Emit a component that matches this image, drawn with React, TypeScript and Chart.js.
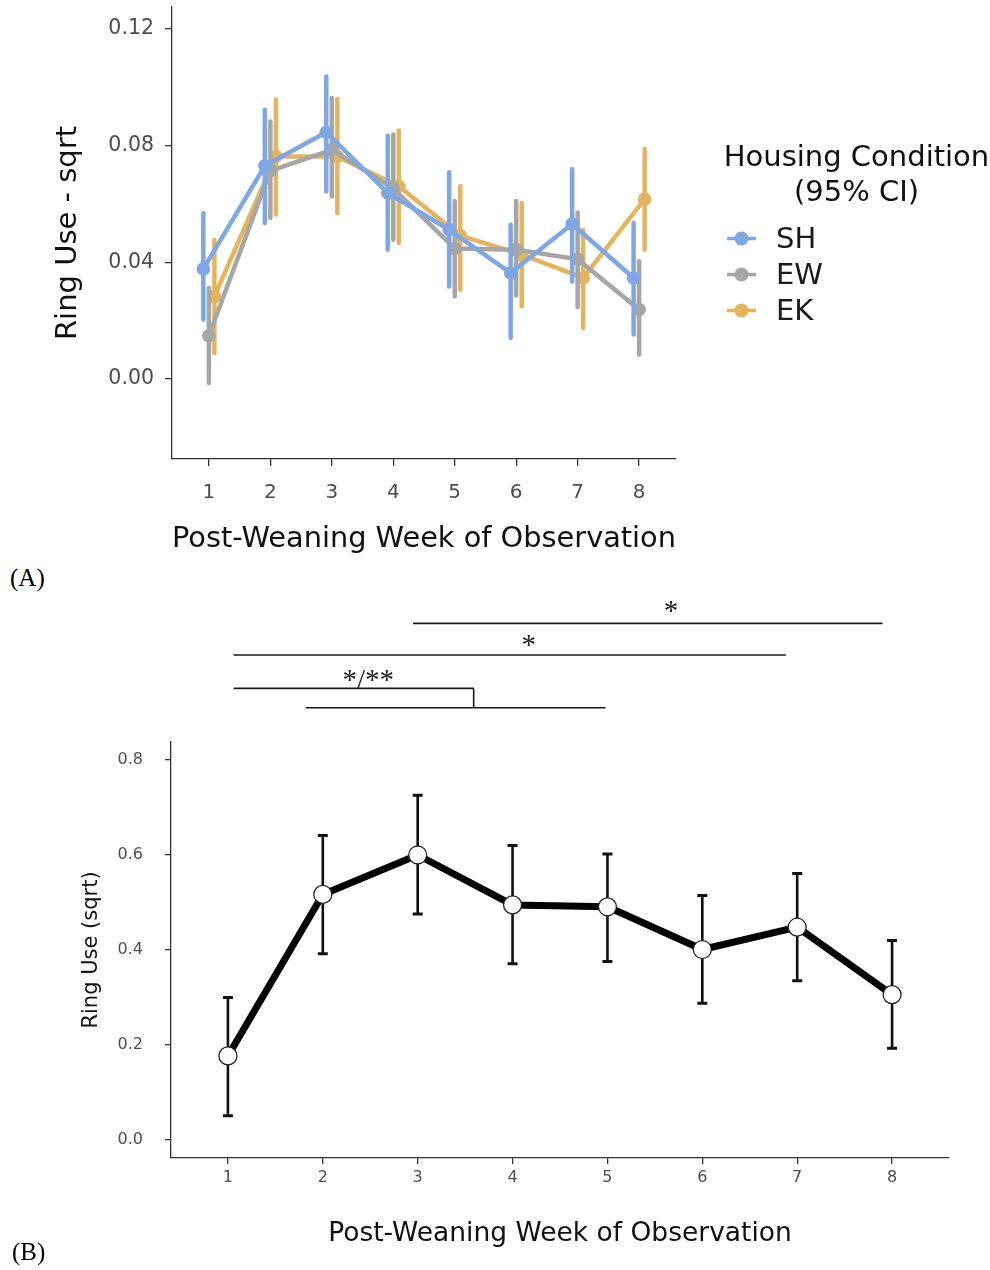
import React, { useEffect, useRef } from "react";
import { Chart, registerables } from "chart.js";

Chart.register(...registerables);

// ---------- Data ----------
const weeks = [1, 2, 3, 4, 5, 6, 7, 8];

// Panel A: housing condition means with 95% CI
const shMean = [0.0377, 0.073, 0.0845, 0.0637, 0.0511, 0.0363, 0.0531, 0.0346];
const shLow = [0.0203, 0.0534, 0.0642, 0.0443, 0.0317, 0.014, 0.0334, 0.0152];
const shHigh = [0.0568, 0.0922, 0.1036, 0.0833, 0.0708, 0.0528, 0.0719, 0.0534];

const ewMean = [0.0148, 0.0713, 0.0785, 0.0652, 0.0447, 0.0443, 0.041, 0.0238];
const ewLow = [-0.0014, 0.0551, 0.0625, 0.0477, 0.0283, 0.0286, 0.0246, 0.0083];
const ewHigh = [0.0312, 0.0882, 0.0962, 0.0837, 0.061, 0.061, 0.057, 0.0403];

const ekMean = [0.0283, 0.0762, 0.0762, 0.066, 0.0491, 0.0426, 0.0346, 0.0616];
const ekLow = [0.0089, 0.0563, 0.0568, 0.0466, 0.0306, 0.0249, 0.0175, 0.0443];
const ekHigh = [0.0477, 0.0957, 0.0959, 0.0851, 0.066, 0.0603, 0.0511, 0.0788];

const groupNames = ["SH", "EW", "EK"];
const legendTitle = ["Housing Condition", "(95% CI)"];
const topYTicks = [0, 0.04, 0.08, 0.12];

// Panel B: overall means with error bars
const allMean = [0.177, 0.517, 0.6, 0.495, 0.491, 0.401, 0.448, 0.306];
const allLow = [0.051, 0.392, 0.476, 0.371, 0.376, 0.288, 0.335, 0.193];
const allHigh = [0.3, 0.641, 0.726, 0.62, 0.602, 0.515, 0.561, 0.42];
const botYTicks = [0, 0.2, 0.4, 0.6, 0.8];

// Significance annotations (x in week units, level in y units)
const sigLines = [
  { x1: 2.95, x2: 7.9, level: 1.0878 },
  { x1: 1.06, x2: 6.88, level: 1.0211 },
  { x1: 1.06, x2: 3.59, level: 0.951 },
  { x1: 1.82, x2: 4.98, level: 0.91 },
];
const sigBracketX = 3.59;
const sigLabels = ["*", "*", "*/**"];
const sigLabelX = [5.67, 4.17, 2.48];
const sigLabelLevel = [1.0955, 1.0235, 0.949];

// ---------- Styling ----------
const FONT = "'DejaVu Sans', 'Liberation Sans', sans-serif";
const SERIF = "'Liberation Serif', 'DejaVu Serif', serif";
const colors = ["#7FA7E6", "#A6A6A6", "#E4B55D"];
const dodge = [-0.09, 0, 0.09];
const AXIS = "#333333";
const TICKTXT = "#4D4D4D";

const errorBarPlugin = {
  id: "errBars",
  afterDatasetDraw(chart: any, args: any) {
    const ds: any = chart.data.datasets[args.index];
    if (!ds.errLow || ds.capWidth) return;
    const ctx = chart.ctx;
    const ys = chart.scales.y;
    ctx.save();
    ctx.strokeStyle = ds.borderColor;
    ctx.lineWidth = ds.errWidth || 4;
    ctx.lineCap = "round";
    args.meta.data.forEach((el: any, i: number) => {
      const y1 = ys.getPixelForValue(ds.errLow[i]);
      const y2 = ys.getPixelForValue(ds.errHigh[i]);
      ctx.beginPath();
      ctx.moveTo(el.x, y1);
      ctx.lineTo(el.x, y2);
      ctx.stroke();
    });
    ctx.restore();
  },
  beforeDatasetDraw(chart: any, args: any) {
    const ds: any = chart.data.datasets[args.index];
    if (!ds.errLow || !ds.capWidth) return;
    const ctx = chart.ctx;
    const ys = chart.scales.y;
    ctx.save();
    ctx.strokeStyle = "#111";
    ctx.lineCap = "butt";
    args.meta.data.forEach((el: any, i: number) => {
      const y1 = ys.getPixelForValue(ds.errLow[i]);
      const y2 = ys.getPixelForValue(ds.errHigh[i]);
      ctx.lineWidth = ds.errWidth;
      ctx.beginPath();
      ctx.moveTo(el.x, y1);
      ctx.lineTo(el.x, y2);
      ctx.stroke();
      ctx.lineWidth = 3;
      ctx.beginPath();
      ctx.moveTo(el.x - ds.capWidth, y1);
      ctx.lineTo(el.x + ds.capWidth, y1);
      ctx.moveTo(el.x - ds.capWidth, y2);
      ctx.lineTo(el.x + ds.capWidth, y2);
      ctx.stroke();
    });
    ctx.restore();
  },
};

const legendPlugin = {
  id: "hcLegend",
  afterDraw(chart: any) {
    const ctx = chart.ctx;
    ctx.save();
    ctx.fillStyle = "#111";
    ctx.font = `29px ${FONT}`;
    ctx.textAlign = "center";
    ctx.textBaseline = "middle";
    ctx.fillText(legendTitle[0], 856.5, 158);
    ctx.fillText(legendTitle[1], 856.5, 193);
    chart.data.datasets.forEach((ds: any, i: number) => {
      const y = 238.5 + i * 36;
      ctx.strokeStyle = ds.borderColor;
      ctx.lineWidth = 3.5;
      ctx.beginPath();
      ctx.moveTo(727, y);
      ctx.lineTo(756, y);
      ctx.stroke();
      ctx.fillStyle = ds.borderColor;
      ctx.beginPath();
      ctx.arc(741.5, y, 7, 0, Math.PI * 2);
      ctx.fill();
      ctx.fillStyle = "#1a1a1a";
      ctx.textAlign = "left";
      ctx.fillText(ds.label, 776, y + 2);
    });
    ctx.restore();
  },
};

const sigPlugin = {
  id: "sigLines",
  afterDraw(chart: any) {
    const ctx = chart.ctx;
    const xs = chart.scales.x;
    const ys = chart.scales.y;
    ctx.save();
    ctx.strokeStyle = "#1a1a1a";
    ctx.lineWidth = 1.6;
    sigLines.forEach((s) => {
      const y = ys.getPixelForValue(s.level);
      ctx.beginPath();
      ctx.moveTo(xs.getPixelForValue(s.x1), y);
      ctx.lineTo(xs.getPixelForValue(s.x2), y);
      ctx.stroke();
    });
    const bx = xs.getPixelForValue(sigBracketX);
    ctx.beginPath();
    ctx.moveTo(bx, ys.getPixelForValue(sigLines[2].level));
    ctx.lineTo(bx, ys.getPixelForValue(sigLines[3].level));
    ctx.stroke();
    ctx.fillStyle = "#1a1a1a";
    ctx.font = `29px ${SERIF}`;
    ctx.textAlign = "center";
    ctx.textBaseline = "alphabetic";
    sigLabels.forEach((t, i) => {
      ctx.fillText(t, xs.getPixelForValue(sigLabelX[i]), ys.getPixelForValue(sigLabelLevel[i]));
    });
    ctx.restore();
  },
};

function axisCommon(tickLen: number) {
  return {
    grid: { drawOnChartArea: false, drawTicks: true, tickLength: tickLen, color: AXIS, lineWidth: 1.3 },
    border: { display: true, color: AXIS, width: 1.3 },
  };
}

export default function App() {
  const topRef = useRef<HTMLCanvasElement>(null);
  const botRef = useRef<HTMLCanvasElement>(null);

  useEffect(() => {
    const means = [shMean, ewMean, ekMean];
    const lows = [shLow, ewLow, ekLow];
    const highs = [shHigh, ewHigh, ekHigh];
    const top = new Chart(topRef.current as HTMLCanvasElement, {
      type: "line",
      data: {
        datasets: groupNames.map((name, g) => ({
          label: name,
          data: weeks.map((w, i) => ({ x: w + dodge[g], y: means[g][i] })),
          errLow: lows[g],
          errHigh: highs[g],
          errWidth: 4.5,
          borderColor: colors[g],
          backgroundColor: colors[g],
          borderWidth: 4.5,
          pointRadius: 6.8,
          pointBorderWidth: 0,
          pointBackgroundColor: colors[g],
          tension: 0,
          borderJoinStyle: "round",
        })) as any,
      },
      options: {
        responsive: false,
        animation: false,
        layout: { padding: { left: 0, right: 314, top: 7, bottom: 0 } },
        plugins: { legend: { display: false }, tooltip: { enabled: false } },
        scales: {
          x: {
            type: "linear",
            min: 0.4,
            max: 8.6,
            afterBuildTicks: (s: any) => {
              s.ticks = weeks.map((v) => ({ value: v }));
            },
            afterFit: (s: any) => {
              s.height = 101;
              s.paddingLeft = 0;
              s.paddingRight = 0;
            },
            ...axisCommon(7),
            ticks: {
              color: TICKTXT,
              font: { family: FONT, size: 20 },
              padding: 15,
              maxRotation: 0,
              autoSkip: false,
              callback: (v: any) => String(v),
            },
            title: {
              display: true,
              text: "Post-Weaning Week of Observation",
              color: "#111",
              font: { family: FONT, size: 29 },
              padding: { top: 0, bottom: 3 },
            },
          },
          y: {
            min: -0.0274,
            max: 0.1274,
            afterBuildTicks: (s: any) => {
              s.ticks = topYTicks.map((v) => ({ value: v }));
            },
            afterFit: (s: any) => {
              s.width = 172;
              s.paddingTop = 0;
              s.paddingBottom = 0;
            },
            ...axisCommon(7),
            ticks: {
              color: TICKTXT,
              font: { family: FONT, size: 20.5 },
              padding: 11,
              callback: (v: any) => Number(v).toFixed(2),
            },
            title: {
              display: true,
              text: "Ring Use - sqrt",
              color: "#111",
              font: { family: FONT, size: 29 },
              padding: { top: 51, bottom: 0 },
            },
          },
        },
      } as any,
      plugins: [errorBarPlugin, legendPlugin],
    });

    const bot = new Chart(botRef.current as HTMLCanvasElement, {
      type: "line",
      data: {
        datasets: [
          {
            label: "All",
            data: weeks.map((w, i) => ({ x: w, y: allMean[i] })),
            errLow: allLow,
            errHigh: allHigh,
            errWidth: 2.6,
            capWidth: 5,
            borderColor: "#000",
            borderWidth: 7,
            pointRadius: 9,
            pointBackgroundColor: "#fff",
            pointBorderColor: "#222",
            pointBorderWidth: 1.3,
            tension: 0,
            borderJoinStyle: "round",
          } as any,
        ],
      },
      options: {
        responsive: false,
        animation: false,
        layout: { padding: { left: 0, right: 41, top: 162, bottom: 0 } },
        plugins: { legend: { display: false }, tooltip: { enabled: false } },
        scales: {
          x: {
            type: "linear",
            min: 0.4,
            max: 8.6,
            afterBuildTicks: (s: any) => {
              s.ticks = weeks.map((v) => ({ value: v }));
            },
            afterFit: (s: any) => {
              s.height = 112;
              s.paddingLeft = 0;
              s.paddingRight = 0;
            },
            ...axisCommon(6),
            ticks: {
              color: TICKTXT,
              font: { family: FONT, size: 16 },
              padding: 4,
              maxRotation: 0,
              autoSkip: false,
              callback: (v: any) => String(v),
            },
            title: {
              display: true,
              text: "Post-Weaning Week of Observation",
              color: "#111",
              font: { family: FONT, size: 26.5 },
              padding: { top: 0, bottom: 20 },
            },
          },
          y: {
            min: -0.038,
            max: 0.838,
            afterBuildTicks: (s: any) => {
              s.ticks = botYTicks.map((v) => ({ value: v }));
            },
            afterFit: (s: any) => {
              s.width = 171;
              s.paddingTop = 0;
              s.paddingBottom = 0;
            },
            ...axisCommon(6),
            ticks: {
              color: TICKTXT,
              font: { family: FONT, size: 16 },
              padding: 22,
              callback: (v: any) => Number(v).toFixed(1),
            },
            title: {
              display: true,
              text: "Ring Use (sqrt)",
              color: "#111",
              font: { family: FONT, size: 21 },
              padding: { top: 79, bottom: 0 },
            },
          },
        },
      } as any,
      plugins: [errorBarPlugin, sigPlugin],
    });

    return () => {
      top.destroy();
      bot.destroy();
    };
  }, []);

  const panelLabel: React.CSSProperties = {
    position: "absolute",
    fontFamily: SERIF,
    fontSize: 25,
    lineHeight: "30px",
    color: "#000",
  };

  return (
    <div style={{ position: "absolute", left: 0, top: 0, width: 990, height: 1270, background: "#fff" }}>
      <canvas ref={topRef} width={990} height={560} style={{ position: "absolute", left: 0, top: 0, width: 990, height: 560 }} />
      <div style={{ ...panelLabel, left: 10, top: 563 }}>(A)</div>
      <canvas ref={botRef} width={990} height={690} style={{ position: "absolute", left: 0, top: 580, width: 990, height: 690 }} />
      <div style={{ ...panelLabel, left: 12, top: 1237 }}>(B)</div>
    </div>
  );
}
